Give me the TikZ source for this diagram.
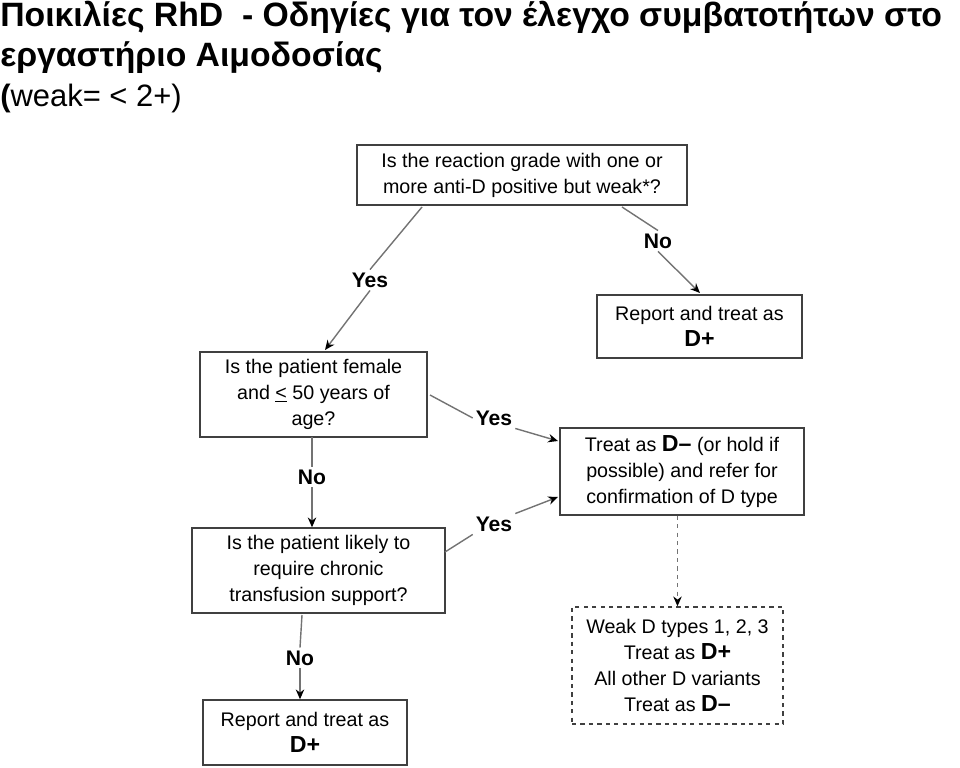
\documentclass[tikz,border=0pt]{standalone}
\usepackage{fontspec}
\setmainfont{Liberation Sans}
\usetikzlibrary{arrows.meta}

\tikzset{
  qbox/.style={draw=black!75, line width=1pt, align=center, font=\fontsize{14}{18.5}\selectfont, inner sep=0pt},
  lab/.style={font=\fontsize{15}{17}\selectfont\bfseries, inner sep=2pt},
  link/.style={draw=black!55, line width=1pt},
  arr/.style={link, -{Stealth[length=7pt,width=6pt,black]}}
}
\newcommand{\Dp}{{\fontsize{16.5}{18}\selectfont\bfseries D+}}
\newcommand{\Dm}{{\fontsize{16.5}{18}\selectfont\bfseries D--}}

\begin{document}
\begin{tikzpicture}[x=0.025cm, y=-0.025cm]
	\useasboundingbox (0,0) rectangle (960,768);
	
	% title
	\node[anchor=west, font=\fontsize{24}{28}\selectfont\bfseries, inner sep=0pt] (t1) at (0,17) {Ποικιλίες RhD\ \ - Οδηγίες για τον έλεγχο συμβατοτήτων στο};
	\node[anchor=west, font=\fontsize{24}{28}\selectfont\bfseries, inner sep=0pt] (t2) at (0,58) {εργαστήριο Αιμοδοσίας};
	\node[anchor=west, font=\fontsize{22}{26}\selectfont, inner sep=0pt] (t3) at (0,99) {\textbf{(}weak= < 2+)};
	
	% boxes
	\node[qbox, minimum width=330*0.025cm, minimum height=60*0.025cm] (react) at (522,175) {Is the reaction grade with one or\\more anti-D positive but weak*?};
	\node[qbox, minimum width=205*0.025cm, minimum height=63*0.025cm] (repA) at (699.5,326.5) {Report and treat as\\\Dp};
	\node[qbox, minimum width=227*0.025cm, minimum height=85*0.025cm] (female) at (313.5,394.5) {Is the patient female\\and \underline{<} 50 years of\\age?};
	\node[qbox, minimum width=244*0.025cm, minimum height=87*0.025cm] (treatD) at (682,471.5) {Treat as \Dm\ (or hold if\\possible) and refer for\\confirmation of D type};
	\node[qbox, minimum width=253*0.025cm, minimum height=85*0.025cm] (chronic) at (318.5,570.5) {Is the patient likely to\\require chronic\\transfusion support?};
	\node[qbox, dashed, minimum width=211*0.025cm, minimum height=117*0.025cm] (weak) at (677.5,665.5) {Weak D types 1, 2, 3\\Treat as \Dp\\All other D variants\\Treat as \Dm};
	\node[qbox, minimum width=204*0.025cm, minimum height=65*0.025cm] (repB) at (305,732.5) {Report and treat as\\\Dp};
	
	% labels
	\node[lab] (yes1) at (370,280) {Yes};
	\node[lab] (no1) at (658,241) {No};
	\node[lab] (no2) at (312,477) {No};
	\node[lab] (yes2) at (494,418) {Yes};
	\node[lab] (yes3) at (494,524) {Yes};
	\node[lab] (no3) at (300,658) {No};
	
	% connectors
	\draw[link] (422,207) -- (yes1.north);
	\draw[arr] (yes1.south) -- (325,350);
	\draw[link] (622,207) -- (no1.north);
	\draw[arr] (no1.south) -- (700,293);
	\draw[link] (312,437) -- (no2.north);
	\draw[arr] (no2.south) -- (chronic.north -| no2);
	\draw[link] (430,395) -- (yes2.west);
	\draw[arr] (yes2.south east) -- (558,441);
	\draw[link] (445,552) -- (yes3.south west);
	\draw[arr] (yes3.north east) -- (558,497);
	\draw[link] (302,615) -- (no3.north);
	\draw[arr] (no3.south) -- (repB.north -| no3);
	\draw[arr, dashed] (treatD.south -| weak) -- (weak.north);
\end{tikzpicture}
\end{document}
